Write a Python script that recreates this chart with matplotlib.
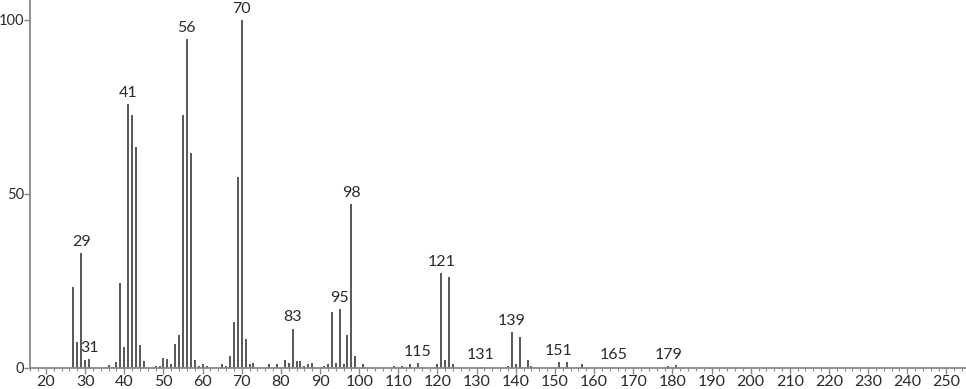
import matplotlib
matplotlib.use('Agg')
import matplotlib.pyplot as plt
from matplotlib.ticker import MultipleLocator

# Mass spectrum peaks (m/z, relative intensity)
mz = [27, 28, 29, 30, 31, 36, 37, 38, 39, 40, 41, 42, 43, 44, 45, 48, 49, 50,
      51, 52, 53, 54, 55, 56, 57, 58, 59, 60, 61, 63, 65, 66, 67, 68, 69, 70,
      71, 72, 73, 77, 79, 81, 82, 83, 84, 85, 86, 87, 88, 91, 92, 93, 94, 95,
      96, 97, 98, 99, 101, 109, 111, 113, 115, 120, 121, 122, 123, 124, 131,
      138, 139, 140, 141, 143, 144, 151, 153, 157, 165, 179, 181]
intensity = [23.1, 7.5, 32.9, 2.2, 2.5, 0.8, 0.3, 1.7, 24.4, 5.8, 75.8, 72.5,
             63.3, 6.5, 1.8, 0.5, 0.5, 2.9, 2.5, 1.0, 6.8, 9.4, 72.5, 94.5,
             61.7, 2.2, 0.5, 1.0, 0.4, 0.3, 1.0, 0.5, 3.2, 13.2, 54.7, 100.0,
             8.2, 1.0, 1.4, 1.0, 1.0, 2.2, 1.4, 11.2, 1.9, 1.8, 0.6, 1.0, 1.4,
             0.5, 1.0, 16.0, 1.4, 16.8, 1.1, 9.4, 47.0, 3.4, 1.0, 0.4, 0.4,
             1.0, 1.3, 1.1, 27.2, 2.2, 26.1, 1.0, 0.3, 0.5, 10.2, 1.0, 8.7,
             2.2, 0.5, 1.7, 1.7, 1.0, 0.3, 0.5, 0.8]

# peaks that carry an m/z label
labelled = [29, 31, 41, 56, 70, 83, 95, 98, 115, 121, 131, 139, 151, 165, 179]

font = 'Lato'

fig = plt.figure(figsize=(9.66, 3.89), dpi=100)
ax = fig.add_axes([0.031, 0.055, 0.969, 0.945])

ax.vlines(mz, 0, intensity, color='#4a4a4a', linewidth=1.3)

peak = dict(zip(mz, intensity))
for m in labelled:
    ax.text(m, peak[m] + 1.2, str(m), ha='center', va='bottom',
            fontsize=11.5, family=font, color='#2a2a2a')

ax.set_xlim(15.9, 255)
ax.set_ylim(0, 105.7)

ax.xaxis.set_minor_locator(MultipleLocator(2))
ax.set_xticks(range(20, 251, 10))
ax.set_yticks([0, 50, 100])

for s in ['top', 'right']:
    ax.spines[s].set_visible(False)
for s in ['left', 'bottom']:
    ax.spines[s].set_color('#888888')
    ax.spines[s].set_linewidth(1.3)

ax.tick_params(axis='both', which='major', length=4, width=1, color='#888888',
               labelsize=11.5, labelcolor='#2a2a2a', pad=1)
ax.tick_params(axis='y', which='major', pad=0.3, labelsize=10.5)
ax.tick_params(axis='x', which='minor', length=2, width=0.8, color='#888888')
for lbl in ax.get_xticklabels() + ax.get_yticklabels():
    lbl.set_family(font)

fig.savefig('out.png', dpi=100)
